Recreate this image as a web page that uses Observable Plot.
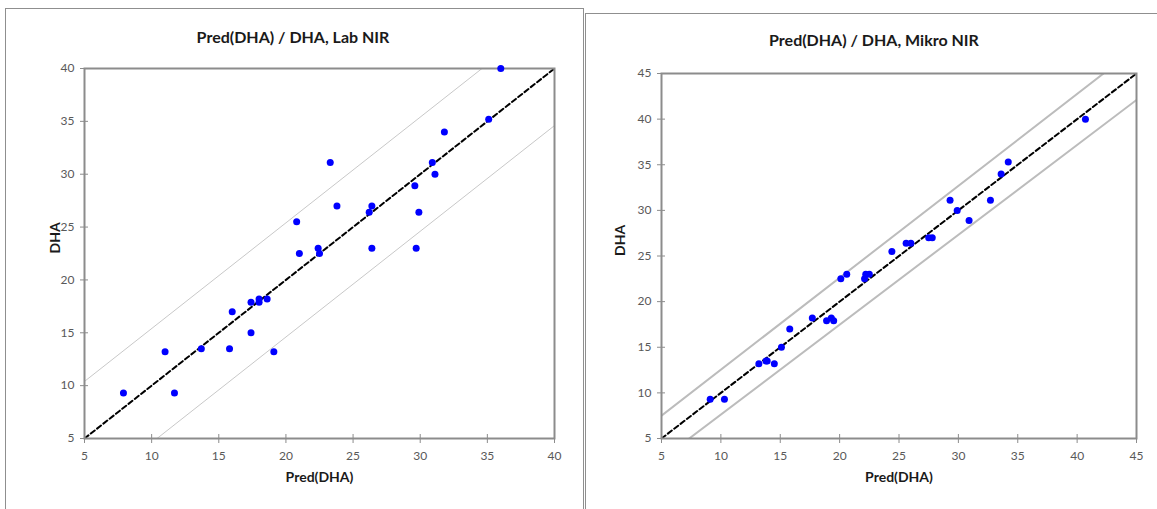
<!DOCTYPE html>
<html><head><meta charset="utf-8">
<script src="https://cdn.jsdelivr.net/npm/d3@7"></script>
<script src="https://cdn.jsdelivr.net/npm/@observablehq/plot@0.6"></script>
<style>
body{margin:0;background:#fff;font-family:Lato,"Open Sans",sans-serif;}
#wrap{position:relative;width:1157px;height:509px;overflow:hidden;background:#fff;}
.panel{position:absolute;border:1.5px solid #8f8f8f;box-sizing:border-box;background:#fff;}
.title{position:absolute;font-weight:bold;font-size:16px;color:#1a1a1a;transform:translate(-50%,-50%);white-space:nowrap;}
.chart{position:absolute;top:0;}
</style></head>
<body><div id="wrap">
<div class="panel" style="left:5px;top:8px;width:579px;height:530px"></div>
<div class="panel" style="left:585px;top:13px;width:600px;height:530px"></div>
<div class="title" style="left:293px;top:36px">Pred(DHA) / DHA, Lab NIR</div>
<div class="title" style="left:874px;top:39px">Pred(DHA) / DHA, Mikro NIR</div>
<div class="chart" id="lab" style="left:0px"></div>
<div class="chart" id="mikro" style="left:585px"></div>
</div>
<script>
// ---- Lab NIR ----
const labPred = [7.9, 11.7, 11.0, 13.7, 15.8, 19.1, 16.0, 17.4, 17.4, 18.0, 18.0, 18.6, 21.0, 22.4, 22.5, 20.8, 23.3, 23.8, 26.2, 26.4, 26.4, 29.6, 29.9, 29.7, 30.9, 31.1, 31.8, 35.1, 36.0];
const labDHA  = [9.3, 9.3, 13.2, 13.5, 13.5, 13.2, 17.0, 17.9, 15.0, 18.2, 17.9, 18.2, 22.5, 23.0, 22.5, 25.5, 31.1, 27.0, 26.4, 27.0, 23.0, 28.9, 26.4, 23.0, 31.1, 30.0, 34.0, 35.2, 40.0];
const labDomain = [5, 40];
const labTicks = [5, 10, 15, 20, 25, 30, 35, 40];
const labBandOffset = 5.4;

// ---- Mikro NIR ----
const mikroPred = [9.1, 10.3, 13.2, 13.8, 13.9, 14.5, 15.1, 15.8, 17.7, 18.9, 19.3, 19.5, 20.1, 20.6, 22.1, 22.2, 22.5, 24.4, 25.6, 26.0, 27.5, 27.8, 29.3, 29.9, 30.9, 32.7, 33.6, 34.2, 40.7];
const mikroDHA  = [9.3, 9.3, 13.2, 13.5, 13.5, 13.2, 15.0, 17.0, 18.2, 17.9, 18.2, 17.9, 22.5, 23.0, 22.5, 23.0, 23.0, 25.5, 26.4, 26.4, 27.0, 27.0, 31.1, 30.0, 28.9, 31.1, 34.0, 35.3, 40.0];
const mikroDomain = [5, 45];
const mikroTicks = [5, 10, 15, 20, 25, 30, 35, 40, 45];
const mikroBandX = [5, 45];
const mikroUpper = [7.5, 47.8];
const mikroLower = [2.7, 42.1];

const xLabel = "Pred(DHA)";
const yLabel = "DHA";

function makeChart({pred, dha, domain, ticks, upper, lower, bandWidth, bandColor, width, margins, yLabelDx}) {
  const pts = pred.map((p, i) => ({x: p, y: dha[i]}));
  const diag = domain.map(v => ({x: v, y: v}));
  return Plot.plot({
    width, height: 509,
    marginLeft: margins[0], marginRight: margins[1], marginTop: margins[2], marginBottom: margins[3],
    x: {domain, ticks},
    y: {domain, ticks},
    style: {fontFamily: "Lato, 'Open Sans', sans-serif", fontSize: "12px", color: "#595959", background: "transparent", overflow: "visible"},
    marks: [
      Plot.line(upper, {x: "x", y: "y", stroke: bandColor, strokeWidth: bandWidth, clip: true}),
      Plot.line(lower, {x: "x", y: "y", stroke: bandColor, strokeWidth: bandWidth, clip: true}),
      Plot.line(diag, {x: "x", y: "y", stroke: "#000", strokeWidth: 2, strokeDasharray: "5,3"}),
      Plot.frame({stroke: "#8c8c8c", strokeWidth: 2}),
      Plot.axisX({ticks, tickSize: 5, tickPadding: 8, label: null, stroke: "#8c8c8c", fill: "#595959"}),
      Plot.axisX({ticks, tickSize: -4, tickFormat: () => "", label: null, stroke: "#8c8c8c"}),
      Plot.axisY({ticks, tickSize: 4, tickPadding: 6, label: null, stroke: "#8c8c8c", fill: "#595959"}),
      Plot.axisY({ticks, tickSize: -4, tickFormat: () => "", label: null, stroke: "#8c8c8c"}),
      Plot.dot(pts, {x: "x", y: "y", r: 3.5, fill: "#0000ff", stroke: "none"}),
      Plot.text([xLabel], {frameAnchor: "bottom", dy: 43, text: d => d, fontWeight: "bold", fontSize: 14, fill: "#1a1a1a"}),
      Plot.text([yLabel], {frameAnchor: "left", dx: yLabelDx, rotate: -90, text: d => d, fontWeight: "bold", fontSize: 14, fill: "#1a1a1a"})
    ]
  });
}

const labChart = makeChart({
  pred: labPred, dha: labDHA, domain: labDomain, ticks: labTicks,
  upper: labDomain.map(v => ({x: v, y: v + labBandOffset})),
  lower: labDomain.map(v => ({x: v, y: v - labBandOffset})),
  bandWidth: 1, bandColor: "#c8c8c8", width: 583, margins: [84, 29, 68, 71], yLabelDx: -29
});
document.getElementById("lab").append(labChart);

const mikroChart = makeChart({
  pred: mikroPred, dha: mikroDHA, domain: mikroDomain, ticks: mikroTicks,
  upper: mikroBandX.map((v, i) => ({x: v, y: mikroUpper[i]})),
  lower: mikroBandX.map((v, i) => ({x: v, y: mikroLower[i]})),
  bandWidth: 2, bandColor: "#bcbcbc", width: 572, margins: [76, 21, 73, 71], yLabelDx: -41
});
document.getElementById("mikro").append(mikroChart);
</script>
</body></html>
